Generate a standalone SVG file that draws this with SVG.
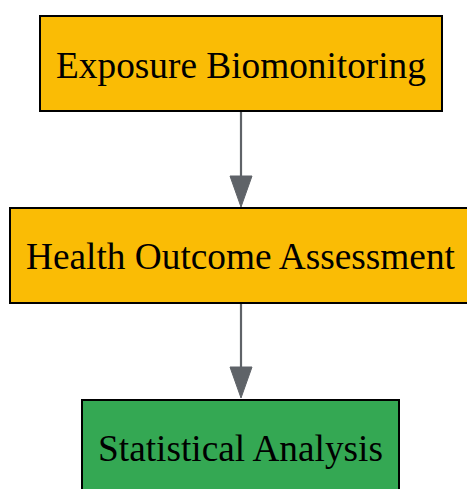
<svg xmlns="http://www.w3.org/2000/svg" width="467" height="489" viewBox="0 0 467 489">
<defs>
<style>
.box{stroke:#000;stroke-width:2}
.y{fill:#FABC05}
.g{fill:#34A853}
.t{font-family:"Liberation Serif","Times New Roman",serif;font-size:37.3px;fill:#000;text-anchor:middle}
.edge{stroke:#5F6368;stroke-width:2.2;fill:none}
.head{fill:#5F6368;stroke:#5F6368;stroke-width:1}
</style>
</defs>
<rect width="467" height="489" fill="#fff"/>
<g id="connectors">
<line class="edge" x1="241" y1="112" x2="241" y2="177"/>
<polygon class="head" points="230,176 252,176 241,207"/>
<line class="edge" x1="241" y1="304" x2="241" y2="368"/>
<polygon class="head" points="230,367 252,367 241,398"/>
</g>
<g id="exposure">
<rect class="box y" x="40" y="16" width="402" height="95"/>
<text class="t" x="241" y="77.5">Exposure Biomonitoring</text>
</g>
<g id="health">
<rect class="box y" x="10" y="208" width="461" height="95"/>
<text class="t" x="240.5" y="269">Health Outcome Assessment</text>
</g>
<g id="stats">
<rect class="box g" x="82" y="400" width="317" height="95"/>
<text class="t" x="240.5" y="461">Statistical Analysis</text>
</g>
</svg>
